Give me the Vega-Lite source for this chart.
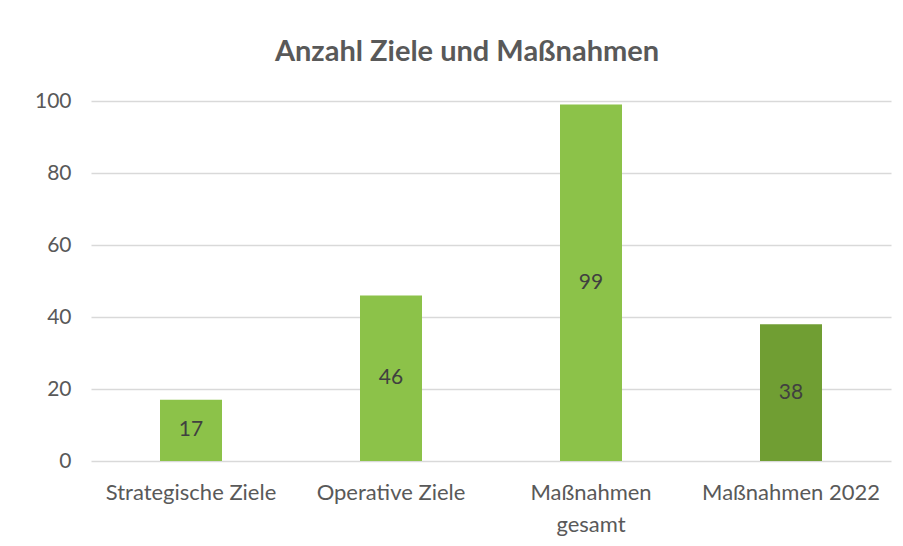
{
  "$schema": "https://vega.github.io/schema/vega-lite/v6.json",
  "width": 800,
  "height": 360,
  "autosize": {"type": "none"},
  "padding": {"left": 91, "top": 101, "right": 12, "bottom": 85},
  "background": "white",
  "config": {
    "view": {"stroke": null},
    "font": "Lato",
    "axis": {"labelFont": "Lato", "labelColor": "#595959", "labelFontSize": 21}
  },
  "title": {
    "text": "Anzahl Ziele und Maßnahmen",
    "font": "Lato",
    "fontSize": 29,
    "fontWeight": "bold",
    "color": "#595959",
    "anchor": "middle",
    "frame": "group",
    "dx": -24,
    "baseline": "alphabetic",
    "offset": 0
  },
  "data": {
    "values": [
      {"kategorie": "Strategische Ziele", "anzahl": 17, "gruppe": "a"},
      {"kategorie": "Operative Ziele", "anzahl": 46, "gruppe": "a"},
      {"kategorie": "Maßnahmen gesamt", "anzahl": 99, "gruppe": "a"},
      {"kategorie": "Maßnahmen 2022", "anzahl": 38, "gruppe": "b"}
    ]
  },
  "layer": [
    {
      "mark": {"type": "bar"},
      "encoding": {
        "x": {
          "field": "kategorie",
          "type": "nominal",
          "sort": null,
          "scale": {"paddingInner": 0.69, "paddingOuter": 0.345},
          "axis": {
            "title": null,
            "labelAngle": 0,
            "ticks": false,
            "domain": false,
            "labelFontSize": 22,
            "labelPadding": 21,
            "labelLineHeight": 32,
            "labelExpr": "datum.label == 'Maßnahmen gesamt' ? ['Maßnahmen', 'gesamt'] : datum.label"
          }
        },
        "y": {
          "field": "anzahl",
          "type": "quantitative",
          "scale": {"domain": [0, 100], "nice": false},
          "axis": {
            "title": null,
            "values": [0, 20, 40, 60, 80, 100],
            "ticks": false,
            "domain": false,
            "labelPadding": 20,
            "gridColor": "#D9D9D9",
            "gridWidth": 1.5
          }
        },
        "color": {
          "field": "gruppe",
          "type": "nominal",
          "scale": {"domain": ["a", "b"], "range": ["#8CC249", "#709E33"]},
          "legend": null
        }
      }
    },
    {
      "mark": {"type": "text", "fontSize": 21, "color": "#404040", "baseline": "middle", "font": "Lato"},
      "encoding": {
        "x": {"field": "kategorie", "type": "nominal", "sort": null},
        "y": {
          "field": "anzahl",
          "type": "quantitative",
          "scale": {"domain": [0, 200], "nice": false},
          "axis": null
        },
        "text": {"field": "anzahl", "type": "quantitative"}
      }
    }
  ],
  "resolve": {"scale": {"y": "independent"}}
}
